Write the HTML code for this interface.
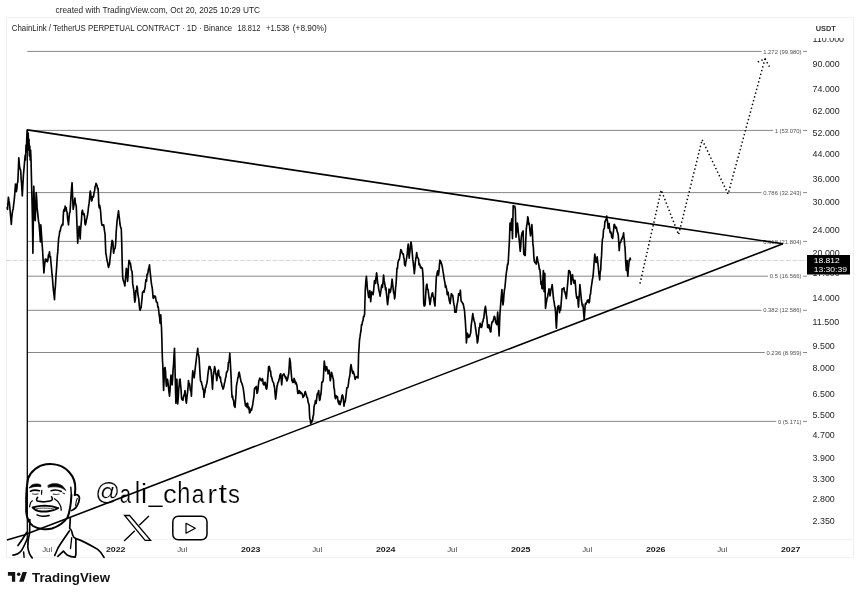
<!DOCTYPE html>
<html><head><meta charset="utf-8"><title>LINKUSDT chart</title>
<style>
html,body{margin:0;padding:0;background:#fff;width:860px;height:597px;overflow:hidden}
svg{display:block}
.root{will-change:transform}
text{font-family:"Liberation Sans",Arial,sans-serif}
.pa text{font-size:8.9px;fill:#262626}
.fib text{font-size:5.9px;fill:#505050;text-anchor:end;paint-order:stroke;stroke:#fff;stroke-width:4px}
.mo{font-size:7.8px;fill:#444}
.yr{font-size:8px;font-weight:bold;fill:#1a1a1a}
</style></head>
<body>
<svg class="root" width="860" height="597" viewBox="0 0 860 597">
<rect width="860" height="597" fill="#fff"/>
<!-- container -->
<rect x="6.5" y="17.5" width="847" height="540" fill="none" stroke="#f0f0f0" stroke-width="1"/>
<line x1="6" y1="539.5" x2="853" y2="539.5" stroke="#f2f2f2" stroke-width="1"/>
<!-- header -->
<text x="55.5" y="13" font-size="8.4" fill="#1e1e1e" textLength="204.6" lengthAdjust="spacingAndGlyphs">created with TradingView.com, Oct 20, 2025 10:29 UTC</text>
<g font-size="8.2" fill="#1a1a1a">
<text x="11.8" y="31" textLength="220.4" lengthAdjust="spacingAndGlyphs">ChainLink / TetherUS PERPETUAL CONTRACT · 1D · Binance</text>
<text x="237.5" y="31" textLength="22.8" lengthAdjust="spacingAndGlyphs">18.812</text>
<text x="266" y="31" textLength="23.3" lengthAdjust="spacingAndGlyphs">+1.538</text>
<text x="292.8" y="31" textLength="33.9" lengthAdjust="spacingAndGlyphs">(+8.90%)</text>
</g>
<text x="815.8" y="30.9" font-size="7.4" font-weight="bold" fill="#333" textLength="20" lengthAdjust="spacingAndGlyphs">USDT</text>
<!-- price axis labels -->
<svg x="0" y="38" width="860" height="500" viewBox="0 38 860 500" overflow="hidden"><g class="pa">
<text x="812.6" y="42.1">110.000</text>
<text x="812.6" y="67.3">90.000</text>
<text x="812.6" y="91.8">74.000</text>
<text x="812.6" y="114.0">62.000</text>
<text x="812.6" y="136.1">52.000</text>
<text x="812.6" y="157.0">44.000</text>
<text x="812.6" y="182.2">36.000</text>
<text x="812.6" y="205.1">30.000</text>
<text x="812.6" y="233.0">24.000</text>
<text x="812.6" y="255.9">20.000</text>
<text x="812.6" y="276.3">17.000</text>
<text x="812.6" y="300.6">14.000</text>
<text x="812.6" y="325.3">11.500</text>
<text x="812.6" y="349.2">9.500</text>
<text x="812.6" y="370.8">8.000</text>
<text x="812.6" y="396.8">6.500</text>
<text x="812.6" y="417.8">5.500</text>
<text x="812.6" y="437.5">4.700</text>
<text x="812.6" y="460.9">3.900</text>
<text x="812.6" y="481.8">3.300</text>
<text x="812.6" y="502.4">2.800</text>
<text x="812.6" y="524.4">2.350</text>
</g></svg>
<!-- current price dashed line -->
<line x1="6" y1="260.5" x2="807" y2="260.5" stroke="#d8d8d8" stroke-width="1" stroke-dasharray="5 1.5"/>
<!-- fib -->
<g class="fib"><g stroke="#7a7a7a" stroke-width="0.9">
<line x1="27.3" y1="51.4" x2="807" y2="51.4"/>
<line x1="27.3" y1="130.4" x2="807" y2="130.4"/>
<line x1="27.3" y1="192.6" x2="807" y2="192.6"/>
<line x1="27.3" y1="241.4" x2="807" y2="241.4"/>
<line x1="27.3" y1="276.2" x2="807" y2="276.2"/>
<line x1="27.3" y1="310.3" x2="807" y2="310.3"/>
<line x1="27.3" y1="352.5" x2="807" y2="352.5"/>
<line x1="27.3" y1="421.4" x2="807" y2="421.4"/>
</g>
<text x="801.5" y="53.5">1.272 (99.980)</text>
<text x="801.5" y="132.5">1 (53.070)</text>
<text x="801.5" y="194.7">0.786 (32.243)</text>
<text x="801.5" y="243.5">0.618 (21.804)</text>
<text x="801.5" y="278.3">0.5 (16.566)</text>
<text x="801.5" y="312.4">0.382 (12.586)</text>
<text x="801.5" y="354.6">0.236 (8.959)</text>
<text x="801.5" y="423.5">0 (5.171)</text>
</g>
<!-- handle -->
<g fill="#000" font-size="100" stroke="#fff" stroke-width="0.8">
<text transform="translate(95.14,499.92) scale(0.2447,0.2372)">@</text>
<text transform="translate(119.68,503.10) scale(0.2038,0.2648)">a</text>
<text transform="translate(134.69,503.10) scale(0.2444,0.2945)">l</text>
<text transform="translate(141.08,503.10) scale(0.2750,0.2753)">i</text>
<text transform="translate(148.41,502.35) scale(0.2542,0.2500)">_</text>
<text transform="translate(162.90,503.10) scale(0.2744,0.2648)">c</text>
<text transform="translate(177.15,503.10) scale(0.2357,0.2959)">h</text>
<text transform="translate(191.68,503.10) scale(0.2288,0.2648)">a</text>
<text transform="translate(207.33,503.10) scale(0.2960,0.2648)">r</text>
<text transform="translate(218.5,503.10) scale(0.3100,0.2688)">t</text>
<text transform="translate(227.98,503.10) scale(0.2395,0.2648)">s</text>
</g>

<!-- vertical line -->
<line x1="27.3" y1="129.9" x2="27.3" y2="539" stroke="#000" stroke-width="1.3"/>
<!-- price -->
<polyline points="7.00,207.0 7.50,209.4 7.95,203.0 8.40,197.2 8.90,200.7 9.40,202.8 9.95,208.6 10.50,215.0 10.90,219.3 11.30,224.4 11.75,218.0 12.20,214.0 12.67,210.5 13.15,208.9 13.62,204.8 14.10,201.0 14.57,196.7 15.03,190.0 15.50,184.0 15.95,188.3 16.40,191.6 16.87,188.7 17.33,183.2 17.80,182.2 18.30,171.1 18.80,157.8 19.25,163.5 19.70,167.8 20.10,169.3 20.50,169.5 20.80,172.1 21.10,179.0 21.50,182.4 21.90,189.2 22.30,196.0 22.85,185.1 23.40,175.4 23.90,169.9 24.40,163.7 24.80,159.3 25.20,155.0 25.60,160.0 26.00,145.0 26.40,152.0 26.80,137.0 27.30,129.9 27.80,141.0 28.20,133.0 28.60,150.0 29.00,139.0 29.40,156.0 29.80,146.0 30.20,160.0 30.60,150.0 31.00,159.0 31.40,175.4 31.70,188.4 32.00,200.0 32.40,217.8 32.90,253.3 33.35,218.9 33.80,186.2 34.30,202.4 34.80,217.8 35.20,220.7 35.70,207.1 36.20,192.5 36.67,198.2 37.13,207.9 37.60,212.2 38.07,216.7 38.53,221.3 39.00,223.5 39.47,228.9 39.93,234.9 40.40,242.0 40.80,224.9 41.22,230.5 41.65,236.8 42.08,243.8 42.50,249.0 42.97,257.3 43.43,264.4 43.90,273.0 44.37,267.1 44.83,263.0 45.30,259.0 45.82,261.3 46.35,259.3 46.88,261.3 47.40,261.7 47.92,259.8 48.45,254.9 48.98,254.4 49.50,251.9 50.00,257.3 50.50,256.7 51.00,263.0 51.50,268.2 52.00,274.2 52.50,278.9 53.00,285.6 53.50,290.9 54.00,294.9 54.50,299.7 54.97,290.3 55.43,285.8 55.90,277.2 56.37,271.0 56.83,264.4 57.30,256.1 57.77,251.9 58.23,244.4 58.70,237.8 59.23,235.4 59.75,231.1 60.27,231.0 60.80,227.7 61.32,226.2 61.85,225.7 62.38,224.0 62.90,224.9 63.25,216.6 63.60,210.8 64.12,209.4 64.65,211.1 65.17,206.1 65.70,208.0 66.17,207.5 66.63,211.1 67.10,212.2 67.57,218.3 68.03,221.4 68.50,224.9 69.00,218.2 69.50,213.2 70.00,212.2 70.45,205.6 70.90,198.0 71.30,191.9 71.70,186.3 72.10,182.7 72.47,192.9 72.83,201.9 73.20,209.4 73.62,206.8 74.05,204.0 74.48,201.4 74.90,198.0 75.37,202.9 75.83,204.5 76.30,206.6 76.77,219.5 77.23,231.7 77.70,243.2 78.17,235.5 78.63,233.6 79.10,226.3 79.47,231.8 79.83,235.5 80.20,239.0 80.62,229.7 81.05,224.8 81.48,220.0 81.90,212.2 82.43,210.2 82.95,212.7 83.47,214.6 84.00,213.6 84.47,215.7 84.93,223.2 85.40,224.9 85.93,223.1 86.45,219.8 86.97,217.9 87.50,215.0 88.03,211.6 88.55,206.7 89.07,203.7 89.60,198.0 89.95,193.6 90.30,191.0 90.77,193.8 91.23,199.0 91.70,201.0 92.18,199.4 92.67,196.5 93.15,197.2 93.63,196.2 94.12,192.1 94.60,191.0 95.07,186.7 95.53,185.8 96.00,183.4 96.53,184.4 97.05,185.5 97.57,188.9 98.10,188.3 98.45,195.4 98.80,205.2 99.27,207.8 99.73,205.4 100.20,208.0 100.67,212.1 101.13,219.2 101.60,223.5 102.12,225.3 102.65,225.3 103.17,225.0 103.70,224.9 104.17,228.4 104.63,231.6 105.10,234.7 105.45,244.7 105.80,253.3 106.27,255.4 106.73,258.4 107.20,261.1 107.67,262.7 108.13,266.0 108.60,267.4 109.07,265.3 109.53,264.4 110.00,259.0 110.53,254.7 111.05,249.1 111.57,244.5 112.10,240.3 112.50,241.1 112.90,242.0 113.25,248.9 113.60,253.3 114.12,250.3 114.65,248.7 115.17,248.0 115.70,243.0 116.17,232.2 116.63,226.6 117.10,220.6 117.57,217.7 118.03,214.6 118.50,210.8 118.97,215.3 119.43,218.7 119.90,223.5 120.37,226.2 120.83,227.5 121.30,229.0 121.77,244.4 122.23,264.3 122.70,277.2 123.10,279.6 123.50,281.1 123.97,282.0 124.43,284.2 124.90,286.0 125.37,279.8 125.83,274.2 126.30,268.4 126.73,269.2 127.17,276.4 127.60,281.4 128.07,275.7 128.53,265.8 129.00,260.3 129.47,261.1 129.93,263.4 130.40,263.1 130.93,266.9 131.47,270.5 132.00,271.3 132.35,275.4 132.70,283.9 133.13,286.3 133.57,289.1 134.00,292.4 134.40,298.1 134.80,302.2 135.33,299.6 135.85,290.6 136.38,291.5 136.90,286.0 137.37,287.7 137.83,294.0 138.30,296.6 138.77,298.9 139.23,305.2 139.70,309.2 140.17,310.3 140.63,308.1 141.10,307.8 141.57,302.9 142.03,298.6 142.50,292.4 143.03,291.9 143.55,290.8 144.07,292.2 144.60,289.5 145.07,287.6 145.53,282.6 146.00,279.7 146.53,281.2 147.05,274.0 147.57,274.6 148.10,271.3 148.57,268.8 149.03,267.2 149.50,264.9 149.85,269.7 150.20,272.7 150.70,277.2 151.20,281.9 151.70,285.3 152.17,287.5 152.63,291.8 153.10,298.0 153.57,298.3 154.03,295.8 154.50,296.6 154.97,296.2 155.43,296.6 155.90,299.4 156.37,302.0 156.83,302.2 157.30,302.2 157.77,306.9 158.23,306.6 158.70,310.6 159.17,314.8 159.63,317.6 160.10,323.3 160.45,320.1 160.80,314.9 161.15,323.3 161.50,327.5 161.85,338.8 162.20,352.5 162.50,360.9 162.80,365.2 163.20,379.1 163.60,390.5 164.10,379.0 164.60,368.0 165.10,367.5 165.60,372.2 166.00,381.1 166.40,386.3 166.90,382.6 167.40,379.2 167.75,380.6 168.10,383.5 168.57,388.2 169.03,392.4 169.50,396.1 170.00,391.0 170.50,380.7 171.00,375.0 171.55,381.4 172.10,384.9 172.60,379.1 173.10,369.4 173.57,364.3 174.03,355.1 174.50,348.3 174.85,361.4 175.20,376.4 175.55,391.1 175.90,403.2 176.40,391.3 176.90,379.2 177.30,391.7 177.70,403.9 178.20,398.4 178.70,389.1 179.17,385.5 179.63,379.5 180.10,379.2 180.57,384.8 181.03,389.0 181.50,397.5 181.97,399.5 182.43,399.8 182.90,400.3 183.43,397.1 183.95,395.4 184.47,394.0 185.00,390.5 185.47,394.8 185.93,400.7 186.40,403.2 186.93,397.5 187.45,393.3 187.97,388.2 188.50,380.6 188.97,384.6 189.43,383.5 189.90,386.3 190.40,390.7 190.90,390.4 191.40,396.1 191.87,386.3 192.33,376.7 192.80,370.8 193.27,374.5 193.73,373.9 194.20,377.8 194.67,373.6 195.13,369.2 195.60,365.2 196.12,360.9 196.65,356.0 197.17,352.8 197.70,348.3 198.17,353.9 198.63,354.9 199.10,358.1 199.57,366.3 200.03,374.4 200.50,380.6 200.97,381.8 201.43,381.8 201.90,384.9 202.37,385.6 202.83,389.1 203.30,389.1 203.65,391.2 204.00,397.5 204.47,393.5 204.93,392.3 205.40,387.7 205.87,387.3 206.33,384.9 206.80,383.5 207.27,380.8 207.73,376.2 208.20,372.2 208.67,368.8 209.13,366.4 209.60,366.6 210.07,366.7 210.53,369.7 211.00,369.4 211.50,375.2 212.00,381.4 212.50,389.1 212.85,382.4 213.20,377.8 213.67,372.1 214.13,370.2 214.60,366.6 215.12,368.6 215.65,374.1 216.17,374.0 216.70,380.6 217.17,377.8 217.63,373.2 218.10,370.8 218.57,370.1 219.03,375.5 219.50,376.4 219.97,377.9 220.43,377.2 220.90,382.0 221.43,382.6 221.95,385.9 222.47,386.7 223.00,389.1 223.47,388.2 223.93,386.3 224.40,383.5 224.93,381.5 225.45,378.3 225.97,376.8 226.50,372.2 226.97,372.1 227.43,370.9 227.90,369.4 228.38,362.6 228.85,362.5 229.33,359.0 229.80,353.2 230.25,360.9 230.70,369.4 231.17,378.2 231.63,390.7 232.10,397.5 232.60,396.1 233.10,400.0 233.60,400.3 234.07,405.8 234.53,403.8 235.00,407.4 235.47,401.3 235.93,395.8 236.40,386.3 236.87,383.3 237.33,381.4 237.80,377.8 238.27,377.1 238.73,372.9 239.20,372.2 239.67,374.4 240.13,377.2 240.60,379.2 241.12,382.0 241.65,382.7 242.17,384.3 242.70,386.3 243.17,387.8 243.63,391.4 244.10,394.7 244.57,399.6 245.03,402.4 245.50,406.0 246.03,404.2 246.55,403.5 247.07,407.4 247.60,403.2 248.07,407.1 248.55,408.9 249.03,407.2 249.50,413.0 250.03,412.4 250.57,410.8 251.10,408.8 251.57,410.1 252.03,407.5 252.50,406.0 253.00,402.5 253.50,399.1 253.97,396.0 254.43,389.0 254.90,387.8 255.37,388.7 255.83,387.3 256.30,386.4 256.65,389.0 257.00,393.5 257.47,392.4 257.93,390.2 258.40,385.0 258.87,380.8 259.33,379.5 259.80,378.0 260.30,379.3 260.80,380.1 261.30,380.8 261.77,379.8 262.23,378.6 262.70,379.4 263.17,384.0 263.63,384.5 264.10,385.0 264.57,383.0 265.03,382.3 265.50,383.6 265.87,387.7 266.23,388.6 266.60,389.2 267.10,386.7 267.60,379.4 268.10,374.1 268.60,366.7 269.15,366.3 269.70,368.1 270.17,371.3 270.63,371.0 271.10,376.6 271.62,377.0 272.15,379.3 272.68,381.5 273.20,382.2 273.67,383.1 274.13,385.8 274.60,387.8 275.10,394.0 275.60,399.1 276.07,395.4 276.53,391.5 277.00,386.4 277.37,385.3 277.73,383.2 278.10,382.2 278.57,381.8 279.03,379.5 279.50,378.0 279.90,375.5 280.30,374.4 280.70,373.8 281.20,379.4 281.70,385.0 282.15,380.0 282.60,375.2 283.07,374.9 283.53,374.3 284.00,373.8 284.50,375.4 285.00,376.4 285.50,378.0 285.95,376.9 286.40,379.6 286.85,380.9 287.30,380.1 287.77,378.6 288.23,375.7 288.70,373.8 289.20,366.6 289.70,358.3 290.07,360.3 290.43,362.4 290.80,368.1 291.35,374.5 291.90,380.8 292.32,379.9 292.75,382.5 293.18,380.4 293.60,382.2 294.07,378.3 294.53,379.9 295.00,380.8 295.47,383.8 295.93,382.2 296.40,383.6 296.87,385.1 297.33,389.2 297.80,393.5 298.27,393.2 298.73,392.2 299.20,390.6 299.67,391.3 300.13,393.5 300.60,392.1 301.10,393.5 301.60,393.0 302.10,393.5 302.57,395.2 303.03,397.5 303.50,396.3 303.97,396.2 304.43,394.8 304.90,392.1 305.37,391.6 305.83,393.8 306.30,394.9 306.77,397.2 307.23,397.3 307.70,399.1 308.17,402.4 308.63,403.6 309.10,404.7 309.45,412.9 309.80,418.8 310.27,419.4 310.73,423.8 311.20,421.3 311.67,422.5 312.13,420.3 312.60,420.2 313.07,416.1 313.53,415.1 314.00,407.5 314.47,404.7 314.93,404.0 315.40,400.5 315.75,403.2 316.10,403.3 316.57,400.0 317.03,395.2 317.50,393.5 317.90,392.8 318.30,392.0 318.70,390.6 319.15,397.0 319.60,400.5 320.07,399.2 320.53,395.9 321.00,393.5 321.40,389.0 321.80,382.2 322.27,382.4 322.73,381.5 323.20,380.8 323.57,374.3 323.93,367.4 324.30,361.1 324.77,365.3 325.23,366.3 325.70,371.0 326.20,368.0 326.70,366.7 327.17,369.1 327.63,369.5 328.10,373.8 328.57,372.8 329.03,370.3 329.50,372.4 329.85,375.7 330.20,380.8 330.67,378.7 331.13,375.9 331.60,372.4 332.07,374.2 332.53,375.8 333.00,378.0 333.47,379.9 333.93,387.8 334.40,389.2 334.75,394.1 335.10,397.7 335.57,398.7 336.03,395.6 336.50,396.3 336.97,397.5 337.43,396.7 337.90,400.5 338.42,402.6 338.95,403.8 339.48,401.2 340.00,404.7 340.47,402.8 340.93,401.8 341.40,399.1 341.90,395.9 342.40,394.9 342.90,396.3 343.27,398.2 343.63,402.0 344.00,406.1 344.47,402.4 344.93,402.4 345.40,400.5 345.87,396.6 346.33,392.9 346.80,387.8 347.23,387.7 347.65,387.7 348.07,386.2 348.50,383.6 348.97,379.1 349.43,377.3 349.90,375.2 350.27,370.3 350.63,366.7 351.00,364.6 351.47,367.1 351.93,369.8 352.40,372.4 352.87,373.5 353.33,371.3 353.80,373.8 354.27,374.1 354.73,377.5 355.20,379.4 355.67,378.2 356.13,377.1 356.60,376.6 357.07,377.0 357.53,376.5 358.00,378.0 358.30,367.0 358.60,354.1 359.05,347.5 359.50,340.0 360.00,336.9 360.50,333.1 361.00,330.8 361.50,324.5 362.00,325.0 362.52,321.5 363.04,320.6 363.56,316.4 364.08,316.5 364.60,314.0 364.95,301.7 365.30,289.1 365.85,281.0 366.40,276.4 366.90,282.4 367.40,289.1 367.87,291.5 368.33,295.3 368.80,297.5 369.30,294.8 369.80,290.5 370.25,296.1 370.70,301.7 371.20,295.7 371.70,291.9 372.17,292.6 372.63,293.7 373.10,294.7 373.57,291.0 374.03,285.7 374.50,280.6 375.00,281.1 375.50,283.5 375.87,278.2 376.23,275.9 376.60,272.9 377.15,277.2 377.70,283.5 378.20,284.9 378.70,289.1 379.17,291.3 379.63,293.1 380.10,296.1 380.57,293.0 381.03,290.2 381.50,286.3 381.97,284.8 382.43,287.5 382.90,283.5 383.25,278.8 383.60,275.0 384.15,280.7 384.70,283.5 385.12,286.1 385.55,289.9 385.97,287.8 386.40,293.3 386.80,296.1 387.20,301.2 387.60,304.6 388.07,300.2 388.53,297.3 389.00,289.1 389.47,290.5 389.93,292.6 390.40,291.9 390.82,289.7 391.25,286.8 391.68,283.0 392.10,279.2 392.65,283.9 393.20,289.1 393.67,293.0 394.13,294.2 394.60,298.9 395.07,295.8 395.53,288.2 396.00,284.9 396.50,276.8 397.00,268.0 397.47,268.4 397.93,263.0 398.40,261.0 398.87,259.6 399.33,259.6 399.80,256.7 400.30,253.2 400.80,249.7 401.35,250.1 401.90,252.5 402.37,253.3 402.83,254.2 403.30,253.9 403.73,257.6 404.15,258.5 404.57,264.7 405.00,265.2 405.37,266.0 405.73,262.4 406.10,261.0 406.65,257.8 407.20,253.9 407.70,248.4 408.20,244.1 408.70,252.9 409.20,258.1 409.57,253.5 409.93,251.5 410.30,246.9 410.65,243.8 411.00,242.0 411.50,244.9 412.00,249.7 412.40,254.9 412.80,259.9 413.20,262.4 413.57,266.1 413.93,269.0 414.30,273.6 414.80,269.1 415.30,262.4 415.77,259.0 416.23,256.2 416.70,252.5 417.17,256.3 417.63,257.7 418.10,258.1 418.57,259.3 419.03,264.9 419.50,263.8 419.97,265.2 420.43,267.6 420.90,268.0 421.37,267.2 421.83,267.9 422.30,268.0 422.80,272.8 423.30,282.1 423.70,303.2 424.17,306.0 424.63,305.9 425.10,304.6 425.57,296.5 426.03,289.5 426.50,284.9 426.97,284.2 427.43,289.2 427.90,289.1 428.42,292.4 428.95,296.8 429.48,300.3 430.00,304.6 430.52,301.6 431.05,297.5 431.58,296.2 432.10,293.3 432.60,292.8 433.10,296.0 433.60,297.5 434.07,300.7 434.53,303.8 435.00,306.0 435.47,295.8 435.93,285.1 436.40,276.4 436.87,274.7 437.33,272.0 437.80,270.8 438.15,274.9 438.50,275.0 438.97,271.1 439.43,265.0 439.90,260.2 440.37,260.8 440.83,261.7 441.30,263.8 441.70,264.0 442.10,266.1 442.50,268.0 443.00,271.4 443.50,274.1 443.97,277.6 444.43,280.4 444.90,282.5 445.37,287.1 445.83,285.3 446.30,288.1 446.77,289.6 447.23,294.6 447.70,292.4 448.17,292.3 448.63,296.4 449.10,299.4 449.60,301.7 450.10,303.6 450.50,300.5 450.90,297.6 451.30,293.8 451.77,294.0 452.23,295.2 452.70,295.2 453.17,298.5 453.63,302.7 454.10,305.0 454.45,306.1 454.80,312.1 455.27,310.9 455.73,312.1 456.20,312.1 456.67,307.5 457.13,304.1 457.60,302.2 458.10,298.8 458.60,293.8 459.15,293.7 459.70,295.2 460.05,293.5 460.40,290.2 460.75,296.5 461.10,300.8 461.65,301.9 462.20,302.2 462.70,303.6 463.20,303.6 463.70,306.3 464.20,309.2 464.57,311.1 464.93,316.7 465.30,320.5 465.65,326.7 466.00,331.8 466.40,343.0 466.90,337.4 467.40,333.2 467.87,334.5 468.33,337.0 468.80,337.4 469.27,335.3 469.73,336.4 470.20,334.6 470.70,332.8 471.20,325.4 471.70,321.9 472.07,319.3 472.43,316.1 472.80,313.5 473.23,317.6 473.65,318.1 474.07,321.0 474.50,321.9 474.97,323.8 475.43,327.5 475.90,330.3 476.37,334.5 476.83,336.5 477.30,343.0 477.77,341.6 478.23,337.6 478.70,333.2 479.17,327.6 479.63,327.6 480.10,323.3 480.57,324.5 481.03,326.7 481.50,327.5 481.97,326.1 482.43,321.8 482.90,321.9 483.37,318.8 483.83,318.2 484.30,313.5 484.85,309.2 485.40,306.4 485.90,309.3 486.40,314.9 486.80,317.3 487.20,321.7 487.60,327.5 488.07,327.0 488.53,327.8 489.00,324.7 489.47,327.6 489.93,329.8 490.40,331.8 490.87,331.9 491.33,325.5 491.80,323.3 492.27,321.5 492.73,322.1 493.20,320.5 493.70,319.1 494.20,316.3 494.67,316.8 495.13,318.5 495.60,321.9 496.07,323.2 496.53,324.1 497.00,324.7 497.35,316.7 497.70,312.1 498.05,318.1 498.40,324.7 498.75,329.6 499.10,336.0 499.45,326.7 499.80,316.3 500.30,309.1 500.80,302.2 501.35,295.7 501.90,289.5 502.27,294.2 502.63,301.2 503.00,305.0 503.50,301.2 504.00,293.8 504.47,289.6 504.93,287.4 505.40,282.5 505.90,276.6 506.40,272.7 506.77,270.0 507.13,268.0 507.50,264.2 507.90,264.6 508.30,261.1 508.85,250.8 509.40,241.4 509.70,232.2 510.00,223.1 510.40,226.9 510.80,230.2 511.30,222.6 511.80,218.9 512.15,228.8 512.50,238.6 512.85,221.2 513.20,205.6 513.70,206.4 514.20,206.3 514.75,206.2 515.30,209.1 515.65,220.6 516.00,237.2 516.47,232.5 516.93,228.1 517.40,223.1 517.87,226.6 518.33,232.7 518.80,235.8 519.27,240.6 519.73,245.3 520.20,251.3 520.70,246.3 521.20,238.0 521.70,234.4 522.17,232.4 522.63,232.0 523.10,230.9 523.45,243.6 523.80,254.1 524.27,254.4 524.73,255.4 525.20,255.5 525.75,241.3 526.30,228.8 526.77,225.2 527.23,223.0 527.70,216.8 528.17,218.0 528.63,224.1 529.10,223.1 529.57,226.5 530.03,231.6 530.50,235.8 530.97,232.3 531.43,229.6 531.90,224.5 532.40,232.7 532.90,244.2 533.37,247.1 533.83,256.3 534.30,261.1 534.77,262.6 535.23,262.8 535.70,262.5 536.17,264.1 536.63,259.0 537.10,256.9 537.57,259.4 538.03,262.4 538.50,263.4 538.93,265.8 539.37,269.4 539.80,269.1 540.20,272.6 540.60,278.9 541.00,284.5 541.47,281.5 541.93,288.4 542.40,288.8 542.90,279.2 543.40,270.5 543.75,282.3 544.10,291.6 544.45,285.3 544.80,273.3 545.15,290.9 545.50,308.5 545.87,305.8 546.23,303.1 546.60,301.4 547.10,298.2 547.60,297.2 548.07,293.6 548.53,292.4 549.00,288.8 549.50,292.3 550.00,295.8 550.37,293.6 550.73,290.9 551.10,288.8 551.47,288.6 551.83,286.6 552.20,284.5 552.70,290.0 553.20,295.8 553.67,299.9 554.13,302.1 554.60,305.6 555.10,307.7 555.60,312.7 556.00,322.3 556.40,328.2 556.90,319.0 557.40,308.5 557.87,306.3 558.33,308.0 558.80,305.6 559.15,309.6 559.50,312.7 560.00,308.3 560.50,310.1 561.00,305.6 561.37,300.4 561.73,295.6 562.10,288.8 562.57,289.1 563.03,288.6 563.50,288.8 563.97,287.7 564.43,291.9 564.90,291.6 565.37,294.0 565.83,295.9 566.30,298.6 566.77,293.9 567.23,288.4 567.70,283.1 568.20,277.7 568.70,270.5 569.17,270.5 569.63,271.4 570.10,271.9 570.60,275.4 571.10,284.5 571.57,280.7 572.03,278.8 572.50,274.7 572.97,279.2 573.43,279.8 573.90,283.1 574.27,282.0 574.63,283.3 575.00,280.3 575.47,285.0 575.93,291.6 576.40,295.8 576.87,298.4 577.33,296.8 577.80,297.2 578.15,303.7 578.50,307.1 578.97,298.6 579.43,292.3 579.90,284.5 580.40,289.6 580.90,295.0 581.40,300.0 581.87,302.9 582.33,305.9 582.80,304.2 583.27,308.5 583.73,313.8 584.20,319.7 584.65,313.3 585.10,305.6 585.50,303.3 585.90,304.4 586.30,302.8 586.77,302.6 587.23,300.6 587.70,300.0 588.17,301.6 588.63,299.9 589.10,302.8 589.57,301.0 590.03,295.2 590.50,294.4 590.97,289.7 591.43,286.1 591.90,283.1 592.37,279.3 592.83,277.7 593.30,273.3 593.80,267.0 594.30,260.0 594.80,254.1 595.27,257.6 595.73,261.8 596.20,262.5 596.70,259.7 597.20,256.9 597.75,262.3 598.30,266.8 598.77,272.8 599.23,275.9 599.70,280.0 600.17,272.0 600.63,270.6 601.10,261.1 601.55,255.9 602.00,245.0 602.50,238.7 603.00,237.5 603.50,230.0 603.95,229.0 604.40,228.1 604.90,221.6 605.35,221.2 605.80,219.7 606.25,219.1 606.70,216.0 607.05,219.2 607.40,220.6 607.75,224.0 608.10,228.1 608.60,224.4 609.10,223.5 609.45,227.4 609.80,231.0 610.30,232.8 610.80,231.9 611.25,233.3 611.70,237.5 612.15,236.7 612.60,238.5 613.10,234.2 613.60,230.0 614.05,224.7 614.50,224.4 615.00,225.9 615.50,228.1 615.95,227.1 616.40,227.2 616.85,230.1 617.30,231.9 617.80,232.8 618.30,235.6 618.75,242.0 619.20,250.7 619.55,246.4 619.90,243.2 620.35,242.6 620.80,242.2 621.25,239.9 621.70,239.4 622.20,238.0 622.70,236.6 623.15,235.7 623.60,232.8 623.95,237.6 624.30,239.4 624.65,245.4 625.00,246.9 625.35,253.4 625.70,262.0 626.00,265.7 626.30,270.5 626.70,262.3 627.10,260.6 627.45,270.8 627.80,276.1 628.27,269.8 628.73,265.3 629.20,259.9 629.67,260.6 630.13,258.1 630.60,259.9" fill="none" stroke="#000" stroke-width="1.65" stroke-linejoin="round"/>
<!-- trendlines -->
<g stroke="#000" stroke-width="1.6" fill="none">
<line x1="27.3" y1="129.9" x2="782.9" y2="243.8"/>
<polyline points="6.9,540.0 24,535.0 782.9,243.8"/>
</g>
<!-- projection -->
<polyline points="640,283.6 661.2,190.1 678.6,234.7 702.1,139.7 728.1,194 765,58.8" fill="none" stroke="#000" stroke-width="1.5" stroke-dasharray="1.4 2.5"/>
<polyline points="757.8,62 765,58.8 769.5,66.7" fill="none" stroke="#000" stroke-width="1.5" stroke-dasharray="1.4 2.5"/>
<!-- price box -->
<rect x="807" y="255" width="43" height="19.5" fill="#000"/>
<text x="813.7" y="262.5" font-size="7.6" fill="#fff" textLength="26" lengthAdjust="spacingAndGlyphs">18.812</text>
<text x="813.7" y="272" font-size="7.6" fill="#fff" textLength="33.3" lengthAdjust="spacingAndGlyphs">13:30:39</text>
<!-- time axis -->
<g>
<text x="42.2" y="551.9" class="mo" textLength="10" lengthAdjust="spacingAndGlyphs">Jul</text>
<text x="105.9" y="551.9" class="yr" textLength="19.6" lengthAdjust="spacingAndGlyphs">2022</text>
<text x="177.2" y="551.9" class="mo" textLength="10" lengthAdjust="spacingAndGlyphs">Jul</text>
<text x="240.9" y="551.9" class="yr" textLength="19.6" lengthAdjust="spacingAndGlyphs">2023</text>
<text x="312.2" y="551.9" class="mo" textLength="10" lengthAdjust="spacingAndGlyphs">Jul</text>
<text x="375.9" y="551.9" class="yr" textLength="19.6" lengthAdjust="spacingAndGlyphs">2024</text>
<text x="447.2" y="551.9" class="mo" textLength="10" lengthAdjust="spacingAndGlyphs">Jul</text>
<text x="510.9" y="551.9" class="yr" textLength="19.6" lengthAdjust="spacingAndGlyphs">2025</text>
<text x="582.2" y="551.9" class="mo" textLength="10" lengthAdjust="spacingAndGlyphs">Jul</text>
<text x="645.9" y="551.9" class="yr" textLength="19.6" lengthAdjust="spacingAndGlyphs">2026</text>
<text x="717.2" y="551.9" class="mo" textLength="10" lengthAdjust="spacingAndGlyphs">Jul</text>
<text x="780.9" y="551.9" class="yr" textLength="19.6" lengthAdjust="spacingAndGlyphs">2027</text>
</g>
<!-- face -->
<g fill="none" stroke="#000" stroke-linecap="round" stroke-linejoin="round">
<path stroke-width="2.04" d="M28.1,478.5 C30.5,471.5 38,465.5 46,464.3 C55,463 64,466 69.5,472.5 C73.5,477 75.5,483 75.3,489 L74.8,495"/>
<path stroke-width="2.04" d="M28.1,478 C27,484 26.2,490 26.2,498 L26.2,512 C26.8,518 29,523 33,526 C38,529 46,530 52,528.5 C58,526.5 64,522.5 67.5,517.5 C69.5,513 70.3,507 70.9,502 L71.4,495"/>
<path stroke-width="1.44" d="M70.8,487.2 L71.4,495"/>
<path stroke-width="1.80" d="M74.8,495 C76.5,494.2 78.5,494.5 79.3,497.2 C79.6,500 78.8,503 77,506 C75.5,508.5 73.5,510 71.5,510.5"/>
<path stroke-width="1.08" d="M77.2,498.5 C76.3,500.5 75.8,503 75.6,505.5"/>
<!-- eyebrows -->
<path fill="#000" stroke-width="0.72" d="M29.4,487.8 C30.5,485.3 32.5,484.1 36.4,483.9 C38.5,483.9 40,484.3 40.9,485 L40.8,486.8 C38.5,486.3 35,486.3 32.5,487 C31.2,487.4 30.3,487.9 29.4,487.8Z"/>
<path fill="#000" stroke-width="0.72" d="M48.1,485.4 C50,483.8 53.2,483.4 57,483.8 C60.8,484.3 64,486.3 65.8,490.5 C63.5,488.8 61.5,487.7 58.5,487.1 C55,486.5 51,486.8 48.5,487.3Z"/>
<!-- eyes -->
<path stroke-width="1.56" d="M30.4,491.2 C32.5,490.2 36.5,489.9 39.4,490.8"/>
<path stroke-width="1.08" stroke="#555" d="M32.4,493.8 C34.5,494.5 36.5,494.5 38.1,493.8"/>
<path stroke-width="1.56" d="M51.1,490.8 C53.5,489.9 58,489.8 61.3,491.5"/>
<path stroke-width="1.08" stroke="#555" d="M53.2,494.1 C55.5,494.6 57.5,494.6 59.2,494.1"/>
<path stroke-width="0.96" d="M62.8,493 L64.5,493.6"/>
<path stroke-width="1.20" d="M41.8,490.4 L41.5,494.1"/>
<!-- nose -->
<path stroke-width="1.56" d="M37.6,497.4 C36.4,498.6 36.2,500.3 37.4,501.1 C39,501.6 40.5,501.1 42.4,501.8 C44.5,502.2 47,501.2 49.1,501.1 C50.5,501 51.8,500.8 52.3,499.6 C52.6,498.5 52.2,497.6 51.5,496.8"/>
<!-- cheeks -->
<path stroke-width="1.20" d="M32.4,500.8 C30.8,501.8 29.9,503.5 29.7,506.8"/>
<path stroke-width="1.32" d="M54.5,498.8 C56.5,500 58.5,502 59.8,504.5 C61,506.5 61.3,508.5 61.2,510.2"/>
<!-- mouth -->
<path stroke-width="1.92" d="M32.7,507.5 C35,506.6 38.5,506 45.1,505.6 C50,505.6 54.5,506.5 58.2,508.2 C55.5,509.6 52,511 48.5,511.3 C45,511.7 41.5,511.7 38.5,511 C36.2,510.4 34.2,509.2 32.7,507.5Z"/>
<path stroke-width="0.96" stroke="#444" d="M36.4,508.8 C40,508.1 43,508 45.1,508.2 C49,508.1 52,508.5 54.5,509.2"/>
<path stroke-width="1.56" d="M37.1,514.9 C39,515.8 40.5,516.2 42.4,516.2 C45,516.3 47.5,516 49.1,515.5"/>
<!-- neck / collar -->
<path stroke-width="1.68" d="M29.8,519.5 L29.6,533 C28.5,537 27.6,542 27.8,547 C28.4,552 30,555.5 32.2,557.8"/>
<path stroke-width="1.68" d="M70.3,518 L69.7,528.4 C71,529 72,531 72.6,535 C73.3,537 74.5,538.2 75.9,538.6 C81,540.2 89.3,544.4 97.7,549.4 C100.5,551.5 102.5,554.5 104,557.4"/>
<path stroke-width="1.68" d="M69.3,531 C66,536 62,541.5 58,548 L54.7,555.5"/>
<path stroke-width="1.68" d="M57.8,556.3 L63.4,551.1 L67,555 C69.5,556.3 72.5,557.2 75.1,557.2 L75.9,554.4 L75.9,539"/>
<path stroke-width="1.32" d="M71.7,537.7 L70.5,548.6"/>
<path stroke-width="1.68" d="M26.6,532.5 C24,537 21,541.5 18,545.5"/>
<path stroke-width="1.68" d="M27.6,538 C25.5,543 23.5,547.5 21.5,550.5 C19.5,553 16.5,554.8 13,555.1"/>
<path stroke-width="1.44" d="M23.6,552 L24.1,557.3"/>
</g>
<!-- X logo -->
<g fill="none" stroke="#000" stroke-linejoin="miter">
<path stroke-width="1.3" d="M124.6,515.5 L129.6,515.5 L150.6,540.4 L145.1,540.4Z"/>
<path stroke-width="1.4" d="M148.9,516.1 L139.3,525.3 M134.8,530.8 L124.1,540.9"/>
</g>
<!-- YouTube -->
<g fill="none" stroke="#000" stroke-linejoin="round">
<rect x="172.8" y="516.2" width="34.2" height="23.6" rx="5.5" ry="5.5" stroke-width="1.5"/>
<path stroke-width="1.2" d="M186,523.3 L195.3,528.2 L186,533.2Z"/>
</g>

<!-- TradingView logo -->
<g fill="#131313">
<path d="M7.9 572.1H15.2V581.8H11.9V575.8H7.9Z"/>
<circle cx="18.7" cy="574.3" r="1.75"/>
<path d="M22.6 572.1H26.9L23.7 581.8H19.1Z"/>
</g>
<text x="32" y="581.6" font-size="13.1" font-weight="bold" fill="#131313" textLength="78" lengthAdjust="spacingAndGlyphs">TradingView</text>
</svg>
</body></html>
